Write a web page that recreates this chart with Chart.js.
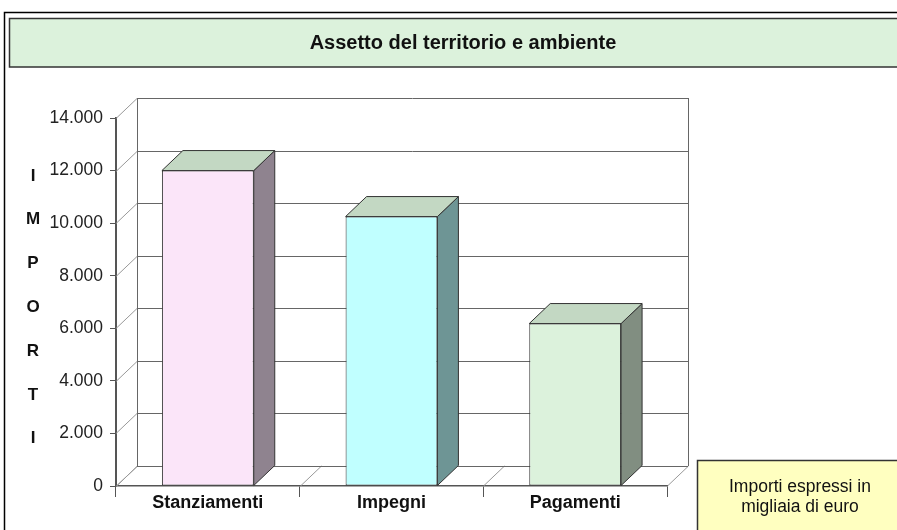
<!DOCTYPE html>
<html lang="it">
<head>
    <meta charset="UTF-8">
    <title>Assetto del territorio e ambiente</title>
    <script src="https://cdn.jsdelivr.net/npm/chart.js"></script>
    <style>
        body { margin: 0; background: #fff; }
    </style>
</head>
<body>
    <canvas id="Chart" width="897" height="530"></canvas>
    <script>
        const titolo = 'Assetto del territorio e ambiente';
        const categorie = ['Stanziamenti', 'Impegni', 'Pagamenti'];
        const importi = [12000, 10250, 6180];
        const coloriFronte = ['#fbe5f9', '#c0ffff', '#dcf2dc'];
        const coloriLato = ['#8f838f', '#6e9595', '#818e81'];
        const coloreTop = '#c3d8c3';
        const letTitoloY = ['I', 'M', 'P', 'O', 'R', 'T', 'I'];
        const nota = ['Importi espressi in', 'migliaia di euro'];

        const DX = 21, DY = -20;
        const FONT = '"Liberation Sans", Arial, sans-serif';

        function formatIt(v) {
            return String(v).replace(/\B(?=(\d{3})+(?!\d))/g, '.');
        }

        const sfondo = {
            id: 'sfondo',
            beforeDraw(chart) {
                const ctx = chart.ctx;
                ctx.save();
                ctx.fillStyle = '#fff';
                ctx.fillRect(0, 0, chart.width, chart.height);
                // cornice
                ctx.strokeStyle = '#000';
                ctx.lineWidth = 1.5;
                ctx.beginPath();
                ctx.moveTo(4.5, 540);
                ctx.lineTo(4.5, 12.5);
                ctx.lineTo(910, 12.5);
                ctx.stroke();
                // riquadro titolo
                ctx.fillStyle = '#dcf2dc';
                ctx.fillRect(9, 18, 920, 49);
                ctx.strokeStyle = '#333';
                ctx.lineWidth = 1.5;
                ctx.strokeRect(9.5, 18.5, 920, 48.5);
                ctx.fillStyle = '#111';
                ctx.font = 'bold 20px ' + FONT;
                ctx.textAlign = 'center';
                ctx.textBaseline = 'middle';
                ctx.fillText(titolo, 463, 43);
                ctx.restore();
            },
            beforeDatasetsDraw(chart) {
                const ctx = chart.ctx;
                const { left, right, top, bottom } = chart.chartArea;
                const y = chart.scales.y, x = chart.scales.x;
                ctx.save();
                // diagonali dalle tacche dell'asse Y
                ctx.strokeStyle = '#999';
                ctx.lineWidth = 1;
                y.ticks.forEach(t => {
                    const py = Math.round(y.getPixelForValue(t.value)) + 0.5;
                    ctx.beginPath();
                    ctx.moveTo(left, py);
                    ctx.lineTo(left + DX, py + DY);
                    ctx.stroke();
                });
                // diagonali del pavimento
                for (let i = 0; i <= categorie.length; i++) {
                    const px = Math.round(x.getPixelForValue(i - 0.5)) + 0.5;
                    ctx.beginPath();
                    ctx.moveTo(px, bottom);
                    ctx.lineTo(px + DX, bottom + DY);
                    ctx.stroke();
                }
                // griglia sulla parete di fondo
                ctx.strokeStyle = '#666';
                y.ticks.forEach(t => {
                    const py = Math.round(y.getPixelForValue(t.value) + DY) + 0.5;
                    ctx.beginPath();
                    ctx.moveTo(left + DX, py);
                    ctx.lineTo(right + DX, py);
                    ctx.stroke();
                });
                ctx.beginPath();
                ctx.moveTo(left + DX + 0.5, top + DY);
                ctx.lineTo(left + DX + 0.5, bottom + DY);
                ctx.moveTo(right + DX + 0.5, top + DY);
                ctx.lineTo(right + DX + 0.5, bottom + DY);
                ctx.stroke();
                ctx.restore();
            },
            afterDatasetsDraw(chart) {
                const ctx = chart.ctx;
                const meta = chart.getDatasetMeta(0);
                ctx.save();
                ctx.strokeStyle = '#333';
                ctx.lineWidth = 1;
                ctx.lineJoin = 'round';
                meta.data.forEach((bar, i) => {
                    const p = bar.getProps(['x', 'y', 'base', 'width'], true);
                    const l = p.x - p.width / 2, r = p.x + p.width / 2;
                    ctx.fillStyle = coloriLato[i];
                    ctx.beginPath();
                    ctx.moveTo(r, p.y);
                    ctx.lineTo(r + DX, p.y + DY);
                    ctx.lineTo(r + DX, p.base + DY);
                    ctx.lineTo(r, p.base);
                    ctx.closePath();
                    ctx.fill();
                    ctx.stroke();
                    ctx.fillStyle = coloreTop;
                    ctx.beginPath();
                    ctx.moveTo(l, p.y);
                    ctx.lineTo(l + DX, p.y + DY);
                    ctx.lineTo(r + DX, p.y + DY);
                    ctx.lineTo(r, p.y);
                    ctx.closePath();
                    ctx.fill();
                    ctx.stroke();
                });
                ctx.restore();
            },
            afterDraw(chart) {
                const ctx = chart.ctx;
                ctx.save();
                // titolo asse Y, lettere in colonna
                ctx.fillStyle = '#111';
                ctx.font = 'bold 17px ' + FONT;
                ctx.textAlign = 'center';
                ctx.textBaseline = 'middle';
                letTitoloY.forEach((c, i) => ctx.fillText(c, 33, 176 + i * 43.8));
                // nota
                ctx.fillStyle = '#ffffc0';
                ctx.fillRect(697, 460, 220, 80);
                ctx.strokeStyle = '#333';
                ctx.lineWidth = 1.5;
                ctx.strokeRect(697.5, 460.5, 220, 80);
                ctx.fillStyle = '#111';
                ctx.font = '17.5px ' + FONT;
                nota.forEach((t, i) => ctx.fillText(t, 800, 487 + i * 20.5));
                ctx.restore();
            }
        };

        new Chart(document.getElementById('Chart'), {
            type: 'bar',
            data: {
                labels: categorie,
                datasets: [{
                    data: importi,
                    backgroundColor: coloriFronte,
                    borderColor: '#333',
                    borderWidth: 1,
                    borderSkipped: false,
                    categoryPercentage: 1,
                    barPercentage: 0.5
                }]
            },
            options: {
                responsive: false,
                animation: false,
                layout: { padding: { top: 118, right: 230, left: 0, bottom: 0 } },
                plugins: {
                    legend: { display: false },
                    tooltip: { enabled: false }
                },
                scales: {
                    x: {
                        afterFit(scale) { scale.height = 44; },
                        grid: {
                            offset: true,
                            drawOnChartArea: false,
                            tickLength: 11,
                            color: '#555'
                        },
                        border: { color: '#555', width: 1.5 },
                        ticks: {
                            color: '#111',
                            padding: -5,
                            font: { family: FONT, size: 18, weight: 'bold' }
                        }
                    },
                    y: {
                        min: 0,
                        max: 14000,
                        afterFit(scale) { scale.width = 116; },
                        grid: {
                            drawOnChartArea: false,
                            tickLength: 6,
                            color: '#555'
                        },
                        border: { color: '#555', width: 2 },
                        ticks: {
                            stepSize: 2000,
                            color: '#222',
                            padding: 7,
                            font: { family: FONT, size: 17.5 },
                            callback: v => formatIt(v)
                        }
                    }
                }
            },
            plugins: [sfondo]
        });
    </script>
</body>
</html>
